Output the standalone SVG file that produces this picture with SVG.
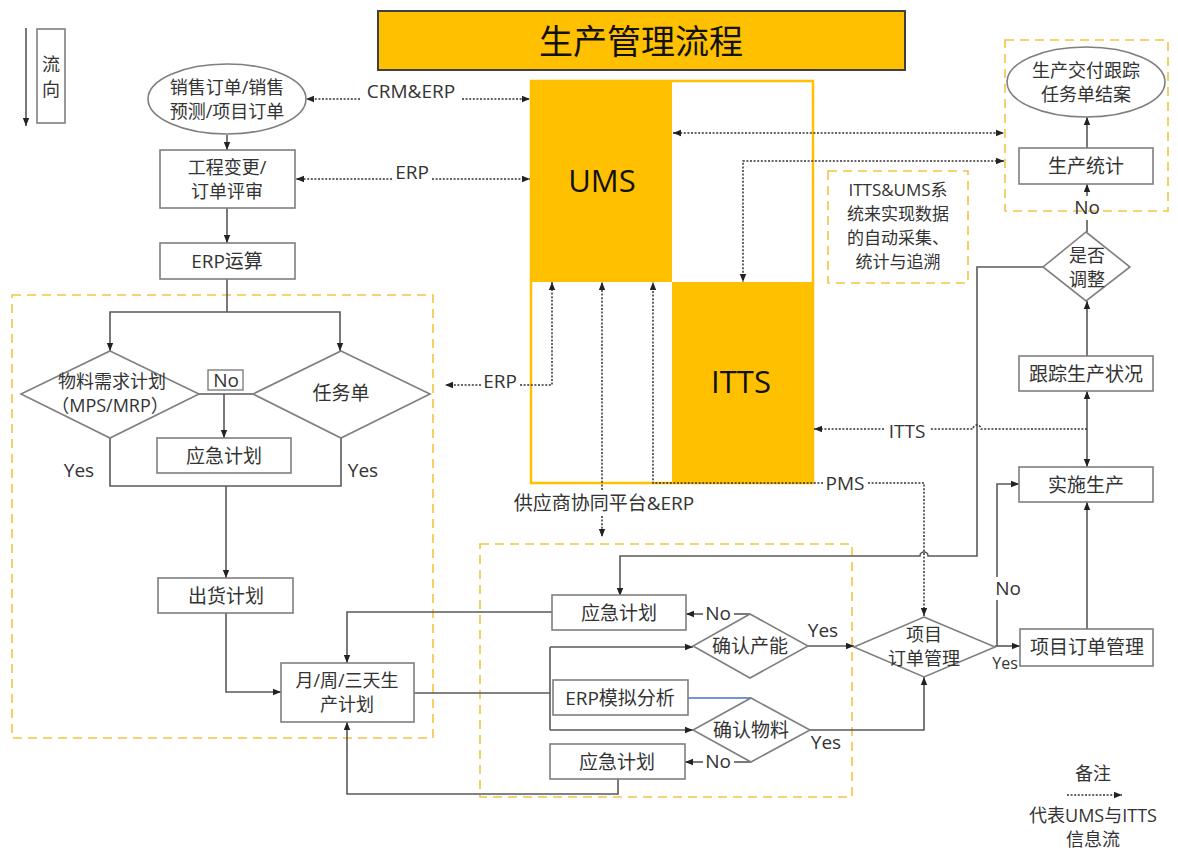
<svg xmlns="http://www.w3.org/2000/svg" width="1178" height="852" viewBox="0 0 1178 852">
<style>
text{font-family:"Open Sans","Noto Sans CJK SC",sans-serif;font-size:19px;fill:#333;text-anchor:middle;dominant-baseline:central}
text.m{font-size:18px}
text.n{font-size:17px}
.bx{fill:#fff;stroke:#7f7f7f;stroke-width:1.6}
.dsh{fill:none;stroke:#F5C445;stroke-width:1.6;stroke-dasharray:9 6}
.ln{fill:none;stroke:#595959;stroke-width:1.6}
.dt{fill:none;stroke:#333;stroke-width:1.5;stroke-dasharray:2 1.6}
.big{font-size:31px;fill:#111}
</style>
<defs>
<marker id="ah" viewBox="0 0 10 10" refX="10" refY="5" markerWidth="9" markerHeight="8" markerUnits="userSpaceOnUse" orient="auto-start-reverse">
<path d="M0,1 L10,5 L0,9 z" fill="#222"/>
</marker>
</defs>
<rect width="1178" height="852" fill="#fff"/>

<g id="dashed-areas">
<rect class="dsh" x="12" y="295" width="421" height="443"/>
<rect class="dsh" x="480" y="544" width="372" height="253"/>
<rect class="dsh" x="1005" y="40" width="163" height="171"/>
<rect class="dsh" x="828" y="171" width="140" height="112"/>
</g>

<g id="flow-direction">
<path d="M26,28 V126" class="ln" stroke="#333" marker-end="url(#ah)"/>
<rect x="37" y="29" width="28" height="94" fill="#fff" stroke="#7f7f7f" stroke-width="1.6"/>
<text class="m" x="51" y="64">流</text>
<text class="m" x="51" y="89">向</text>
</g>

<g id="title">
<rect x="378" y="11" width="527" height="59" fill="#FFC000" stroke="#404040" stroke-width="2"/>
<text x="641" y="41" style="font-size:34px;fill:#111">生产管理流程</text>
</g>

<g id="ums-itts">
<rect x="531" y="81" width="282" height="402" fill="#fff" stroke="#FFC000" stroke-width="2.5"/>
<rect x="530" y="80" width="142" height="202" fill="#FFC000"/>
<rect x="672" y="282" width="142" height="202" fill="#FFC000"/>
<text class="big" x="602" y="180">UMS</text>
<text class="big" x="741" y="381">ITTS</text>
</g>

<g id="connectors">
<path class="ln" d="M227,135 V150" marker-end="url(#ah)"/>
<path class="ln" d="M227,208 V243" marker-end="url(#ah)"/>
<path class="ln" d="M227,279 V312"/>
<path class="ln" d="M110,351 V312 H340 V351" marker-start="url(#ah)" marker-end="url(#ah)"/>
<path class="ln" d="M199,394 H253"/>
<path class="ln" d="M224,394 V438" marker-end="url(#ah)"/>
<path class="ln" d="M110,438 V486 H341 V438"/>
<path class="ln" d="M226,486 V578" marker-end="url(#ah)"/>
<path class="ln" d="M226,613 V692 H281" marker-end="url(#ah)"/>
<path class="ln" d="M414,693 H550" stroke-width="2.4" stroke="#333"/>
<path class="ln" d="M550,647 V730"/>
<path class="ln" d="M550,647 H693" marker-end="url(#ah)"/>
<path class="ln" d="M550,730 H693" marker-end="url(#ah)"/>
<path class="ln" d="M552,612 H347 V663" marker-end="url(#ah)"/>
<path class="ln" d="M618,779 V794 H347 V722" marker-end="url(#ah)"/>
<path class="ln" d="M750,614 H734"/>
<path class="ln" d="M703,614 H686" marker-end="url(#ah)"/>
<path class="ln" d="M751,762 H734"/>
<path class="ln" d="M703,762 H685" marker-end="url(#ah)"/>
<path class="ln" d="M808,646 H854" marker-end="url(#ah)"/>
<path class="ln" d="M810,730 H924 V677" marker-end="url(#ah)"/>
<path d="M688,698 H751" fill="none" stroke="#4472C4" stroke-width="1.3"/>
<path class="ln" d="M995,646 H1020" marker-end="url(#ah)"/>
<path class="ln" d="M997,646 V600"/>
<path class="ln" d="M997,577 V484 H1019" marker-end="url(#ah)"/>
<path class="ln" d="M1087,629 V502" marker-end="url(#ah)"/>
<path class="ln" d="M1087,467 V391" marker-start="url(#ah)" marker-end="url(#ah)"/>
<path class="ln" d="M1087,356 V301" marker-end="url(#ah)"/>
<path class="ln" d="M1087,232 V220"/>
<path class="ln" d="M1087,196 V184" marker-end="url(#ah)"/>
<path class="ln" d="M1087,148 V117" marker-end="url(#ah)"/>
<path class="ln" d="M1043,267 H977 V556 H928 A4,4 0 0 0 920,556 H620 V596" marker-end="url(#ah)"/>
<path class="dt" d="M360,99 H306" marker-end="url(#ah)"/>
<path class="dt" d="M462,99 H530" marker-end="url(#ah)"/>
<path class="dt" d="M392,179 H296" marker-end="url(#ah)"/>
<path class="dt" d="M432,179 H530" marker-end="url(#ah)"/>
<path class="dt" d="M673,133 H1004" marker-start="url(#ah)" marker-end="url(#ah)"/>
<path class="dt" d="M1004,161 H743 V282" marker-start="url(#ah)" marker-end="url(#ah)"/>
<path class="dt" d="M520,385 H552 V282" marker-end="url(#ah)"/>
<path class="dt" d="M481,385 H445" marker-end="url(#ah)"/>
<path class="dt" d="M602,490 V282" marker-end="url(#ah)"/>
<path class="dt" d="M602,516 V537" marker-end="url(#ah)"/>
<path class="dt" d="M823,483 H653 V282" marker-end="url(#ah)"/>
<path class="dt" d="M868,483 H924 V616" marker-end="url(#ah)"/>
<path class="dt" d="M1087,429 H981 A4,4 0 0 0 973,429 H930"/>
<path class="dt" d="M884,429 H814" marker-end="url(#ah)"/>
</g>

<g id="labels">
<text x="411" y="91">CRM&amp;ERP</text>
<text x="412" y="172">ERP</text>
<text x="500" y="381">ERP</text>
<text x="604" y="503">供应商协同平台&amp;ERP</text>
<text x="845" y="483">PMS</text>
<text x="907" y="431">ITTS</text>
<rect x="208" y="370" width="35" height="20" fill="#fff" stroke="#7f7f7f" stroke-width="1.4"/>
<text x="226" y="380">No</text>
<text x="79" y="470">Yes</text>
<text x="363" y="470">Yes</text>
<text x="718" y="613">No</text>
<text x="823" y="630">Yes</text>
<text x="718" y="761">No</text>
<text x="826" y="742">Yes</text>
<text x="1008" y="588">No</text>
<text x="1005" y="663" style="font-size:16px">Yes</text>
<text x="1087" y="207">No</text>
</g>

<g id="n-sales-order">
<ellipse cx="227" cy="99" rx="79" ry="35" fill="#fff" stroke="#7f7f7f" stroke-width="1.6"/>
<text class="m" x="227" y="87">销售订单/销售</text>
<text class="m" x="227" y="111">预测/项目订单</text>
</g>
<g id="n-eng-change">
<rect class="bx" x="160" y="150" width="135" height="58"/>
<text class="m" x="227" y="167">工程变更/</text>
<text class="m" x="227" y="191">订单评审</text>
</g>
<g id="n-erp-calc">
<rect class="bx" x="160" y="243" width="135" height="36"/>
<text x="227" y="261">ERP运算</text>
</g>
<g id="n-mrp">
<polygon class="bx" points="110,351 199,394 110,438 21,394"/>
<text class="m" x="112" y="381">物料需求计划</text>
<text class="m" x="110" y="405">（MPS/MRP）</text>
</g>
<g id="n-task">
<polygon class="bx" points="341,351 430,394 341,438 253,394"/>
<text x="341" y="393">任务单</text>
</g>
<g id="n-emergency-1">
<rect class="bx" x="157" y="438" width="134" height="35"/>
<text x="224" y="456">应急计划</text>
</g>
<g id="n-shipping">
<rect class="bx" x="158" y="578" width="135" height="35"/>
<text x="226" y="596">出货计划</text>
</g>
<g id="n-plan">
<rect class="bx" x="281" y="663" width="133" height="59"/>
<text class="m" x="347" y="680">月/周/三天生</text>
<text class="m" x="347" y="704">产计划</text>
</g>
<g id="n-emergency-2">
<rect class="bx" x="552" y="595" width="134" height="35"/>
<text x="619" y="613">应急计划</text>
</g>
<g id="n-erp-sim">
<rect class="bx" x="553" y="680" width="135" height="35"/>
<text x="620" y="698">ERP模拟分析</text>
</g>
<g id="n-emergency-3">
<rect class="bx" x="550" y="744" width="135" height="35"/>
<text x="617" y="762">应急计划</text>
</g>
<g id="n-capacity">
<polygon class="bx" points="750,614 808,646 750,678 693,646"/>
<text x="750" y="646">确认产能</text>
</g>
<g id="n-material">
<polygon class="bx" points="751,698 810,730 751,762 693,730"/>
<text x="751" y="730">确认物料</text>
</g>
<g id="n-project-decision">
<polygon class="bx" points="924,617 995,647 924,677 854,647"/>
<text class="m" x="924" y="634">项目</text>
<text class="m" x="924" y="658">订单管理</text>
</g>
<g id="n-project-mgmt">
<rect class="bx" x="1020" y="629" width="133" height="37"/>
<text x="1087" y="647">项目订单管理</text>
</g>
<g id="n-execute">
<rect class="bx" x="1019" y="467" width="134" height="35"/>
<text x="1086" y="485">实施生产</text>
</g>
<g id="n-track">
<rect class="bx" x="1019" y="356" width="134" height="35"/>
<text x="1086" y="374">跟踪生产状况</text>
</g>
<g id="n-adjust">
<polygon class="bx" points="1086,232 1130,267 1086,301 1043,267"/>
<text class="m" x="1087" y="255">是否</text>
<text class="m" x="1087" y="279">调整</text>
</g>
<g id="n-stats">
<rect class="bx" x="1019" y="148" width="134" height="36"/>
<text x="1086" y="166">生产统计</text>
</g>
<g id="n-close">
<ellipse cx="1086" cy="82" rx="79" ry="35" fill="#fff" stroke="#7f7f7f" stroke-width="1.6"/>
<text class="m" x="1086" y="70">生产交付跟踪</text>
<text class="m" x="1086" y="94">任务单结案</text>
</g>
<g id="n-note">
<text class="n" x="898" y="189">ITTS&amp;UMS系</text>
<text class="n" x="898" y="213">统来实现数据</text>
<text class="n" x="898" y="237">的自动采集、</text>
<text class="n" x="898" y="261">统计与追溯</text>
</g>
<g id="legend">
<text class="m" x="1093" y="773">备注</text>
<path class="dt" d="M1067,795 H1122" marker-end="url(#ah)"/>
<text class="m" x="1093" y="815">代表UMS与ITTS</text>
<text class="m" x="1093" y="839">信息流</text>
</g>
</svg>
